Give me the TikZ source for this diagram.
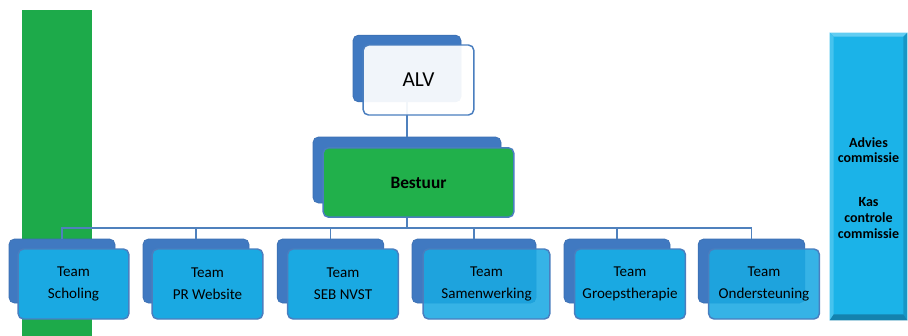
\documentclass[tikz,border=0pt]{standalone}
\usepackage{fontspec}
\setmainfont{Carlito}
\usetikzlibrary{calc}

\definecolor{backblue}{HTML}{4079C1}
\definecolor{edgeblue}{HTML}{4A7EBF}
\definecolor{lineblue}{HTML}{4F81BD}
\definecolor{teamcyan}{HTML}{1AA9E2}
\definecolor{boardgreen}{HTML}{21B04B}
\definecolor{bargreen}{HTML}{1DAA4A}
\definecolor{commcyan}{HTML}{1BB3E8}
\definecolor{commlight}{HTML}{62CDF2}
\definecolor{commdark}{HTML}{1482AE}

\begin{document}
\begin{tikzpicture}[x=0.75pt,y=-0.75pt,
         backbox/.style = {rectangle,rounded corners=4pt,fill=backblue,
         draw=backblue!92!black,line width=0.5pt},
         frontbox/.style = {rectangle,rounded corners=4pt,draw=edgeblue,
         line width=1.1pt,text opacity=1,align=center},
         teamback/.style = {backbox,minimum width=79.5pt,minimum height=48pt},
         teamfront/.style = {frontbox,fill=teamcyan,minimum width=83pt,
         minimum height=52.5pt,font=\fontsize{11.3}{16.5}\selectfont},
         seethrough/.style = {fill opacity=0.88},
         link/.style = {draw=lineblue,line width=1.3pt}
]
         \useasboundingbox (0,0) rectangle (908,336);

         % green band on the left
         \fill[bargreen] (22,10) rectangle (92,336);

         % ALV and Bestuur
         \node[backbox,minimum width=81pt,minimum height=50pt] (ab) at (407,68.5) {};
         \node[backbox,minimum width=141pt,minimum height=49.5pt] (bb) at (407,170) {};

         % teams (back sheets)
         \node[teamback]                      (tb1) at (62,271)    {};
         \node[teamback]                      (tb2) at (196,271)   {};
         \node[teamback,minimum width=80pt]   (tb3) at (330.5,271) {};
         \node[teamback,minimum width=93pt]   (tb4) at (474,271)   {};
         \node[teamback]                      (tb5) at (617,271)   {};
         \node[teamback,minimum width=80pt]   (tb6) at (751.5,271) {};

         % lines
         \coordinate (bus) at (407,228);
         \draw[link] (ab.south) -- (bb.north);
         \draw[link] (bb.south) -- (bus);
         \draw[link] (bus) -| (tb1.north);
         \draw[link] (bus) -| (tb2.north);
         \draw[link] (bus) -| (tb3.north);
         \draw[link] (bus) -| (tb4.north);
         \draw[link] (bus) -| (tb5.north);
         \draw[link] (bus) -| (tb6.north);

         % front sheets
         \node[frontbox,fill=white,fill opacity=0.93,minimum width=83pt,minimum height=52.5pt,
         font=\fontsize{16}{19}\selectfont] (alv) at ($(ab)+(11.5,11.5)$) {ALV};
         \node[frontbox,fill=boardgreen,minimum width=143pt,minimum height=52pt,
         font=\fontsize{13}{16}\selectfont\bfseries] (bestuur) at ($(bb)+(11.5,12.5)$) {Bestuur};

         \node[teamfront] (t1) at ($(tb1)+(11.5,13)$) {Team\\Scholing};
         \node[teamfront] (t2) at ($(tb2)+(11.5,13)$) {Team\\PR Website};
         \node[teamfront] (t3) at ($(tb3)+(12.5,13)$) {Team\\SEB NVST};
         \node[teamfront,seethrough,minimum width=95pt] (t4) at ($(tb4)+(12.5,13)$) {Team\\Samenwerking};
         \node[teamfront] (t5) at ($(tb5)+(13,13)$) {Team\\Groepstherapie};
         \node[teamfront,seethrough] (t6) at ($(tb6)+(12.5,13)$) {Team\\Ondersteuning};

         % commissies
         \node[rectangle,fill=commcyan,minimum width=57.75pt,minimum height=215.25pt,
         inner sep=0pt] (comm) at (868.5,176.5) {};
         \fill[commlight] (comm.north west) -- (comm.north east)
         -- ($(comm.north east)+(-4,4)$) -- ($(comm.north west)+(4,4)$) -- cycle;
         \fill[commlight!60!commcyan] (comm.north west) -- ($(comm.north west)+(4,4)$)
         -- ($(comm.south west)+(4,-6)$) -- (comm.south west) -- cycle;
         \fill[commdark!60!commcyan] (comm.north east) -- ($(comm.north east)+(-4,4)$)
         -- ($(comm.south east)+(-4,-6)$) -- (comm.south east) -- cycle;
         \fill[commdark] (comm.south west) -- (comm.south east)
         -- ($(comm.south east)+(-4,-6)$) -- ($(comm.south west)+(4,-6)$) -- cycle;

         \node[align=center,font=\fontsize{10.5}{11.5}\selectfont\bfseries]
         (advies) at (868.5,150) {Advies\\commissie};
         \node[align=center,font=\fontsize{10.5}{12.2}\selectfont\bfseries]
         (kas) at (868.5,218) {Kas\\controle\\commissie};
   \end{tikzpicture}
\end{document}
